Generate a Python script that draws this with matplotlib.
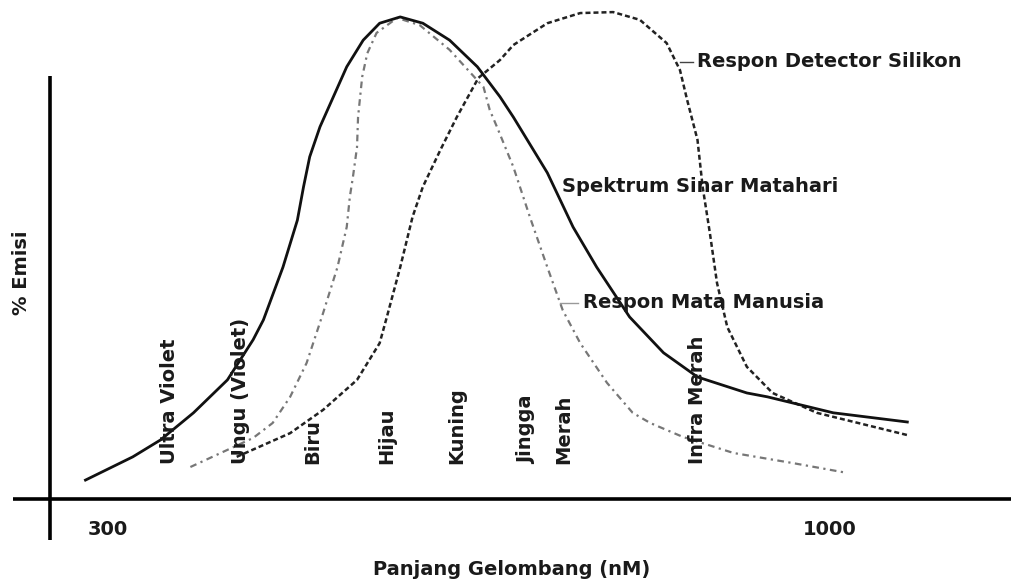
import matplotlib.pyplot as plt

# wavelength (nm) and relative emission (%)
sun_wl = [281, 327, 354, 386, 419, 444, 454, 473, 487, 493, 499, 509, 522, 535, 551, 567,
          587, 609, 635, 662, 684, 697, 730, 755, 778, 810, 843, 876, 924, 944, 1008, 1080]
sun_val = [3.9, 8.7, 12.2, 17.8, 24.6, 32.9, 37.0, 47.9, 57.6, 64.5, 70.7, 76.9, 83.1, 89.3, 94.8, 98.3,
           99.6, 98.3, 94.8, 89.3, 83.1, 78.9, 67.4, 56.2, 47.9, 37.6, 30.2, 25.2, 21.9, 21.1, 17.8, 15.9]

eye_wl = [383, 444, 463, 480, 496, 512, 526, 535, 538, 541, 545, 546, 550, 555, 564, 584, 606,
          635, 668, 674, 681, 697, 713, 730, 745, 762, 788, 813, 830, 862, 911, 969, 1021]
eye_val = [6.6, 12.6, 15.7, 21.1, 28.1, 38.4, 47.9, 56.2, 62.4, 66.5, 72.7, 78.9, 87.2, 92.1, 96.3, 99.4, 97.9,
           92.8, 85.1, 80.4, 76.9, 68.6, 58.3, 47.9, 39.0, 32.2, 24.0, 17.8, 15.7, 12.8, 9.5, 7.4, 5.4]

si_wl = [428, 480, 512, 545, 567, 574, 587, 599, 609, 626, 642, 663, 684, 697, 730, 762, 794,
         820, 846, 859, 866, 876, 881, 888, 895, 905, 924, 949, 992, 1080]
si_val = [8.7, 13.6, 18.4, 24.6, 32.2, 37.6, 47.9, 58.3, 64.5, 72.1, 78.9, 87.0, 90.7, 93.8, 98.3, 100.4, 100.6,
          99.0, 94.2, 88.6, 82.4, 74.2, 64.5, 55.0, 44.6, 35.5, 27.3, 21.9, 17.8, 13.2]

band_names = ["Ultra Violet", "Ungu (Violet)", "Biru", "Hijau", "Kuning", "Jingga", "Merah", "Infra Merah"]
band_pos = [363, 432, 502, 574, 642, 710, 746, 876]

fig = plt.figure(figsize=(10.11, 5.88), dpi=100)
ax = fig.add_axes([0, 0, 1, 1])
ax.axis('off')
ax.set_xlim(197.9, 1180.8)
ax.set_ylim(-18.4, 103.1)

# hand drawn style axes
ax.plot([246.5, 246.5], [-8.5, 87.4], color='black', lw=2.6, solid_capstyle='butt')
ax.plot([210.6, 1180.8], [0, 0], color='black', lw=2.6, solid_capstyle='butt')

ax.plot(eye_wl, eye_val, color='#777777', lw=1.6, linestyle=(0, (3, 2, 1, 2)))
ax.plot(si_wl, si_val, color='#222222', lw=1.8, linestyle=(0, (2, 1.2)))
ax.plot(sun_wl, sun_val, color='#111111', lw=2.0)

txt = dict(fontsize=14, fontweight='bold', color='#1a1a1a')

ax.plot([859, 872], [90.3, 90.3], color='#444444', lw=1)
ax.text(876, 90.3, "Respon Detector Silikon", va='center', ha='left', **txt)
ax.text(744, 64.5, "Spektrum Sinar Matahari", va='center', ha='left', **txt)
ax.plot([742, 760], [40.5, 40.5], color='#999999', lw=1)
ax.text(765, 40.5, "Respon Mata Manusia", va='center', ha='left', **txt)

for name, pos in zip(band_names, band_pos):
    ax.text(pos, 7.2, name, rotation=90, ha='center', va='bottom', **txt)

ax.text(303, -6.4, "300", ha='center', va='center', **txt)
ax.text(1005, -6.4, "1000", ha='center', va='center', **txt)
ax.text(695, -14.5, "Panjang Gelombang (nM)", ha='center', va='center', **txt)
ax.text(219, 46.7, "% Emisi", rotation=90, ha='center', va='center', **txt)

plt.savefig("out.png", dpi=100)
